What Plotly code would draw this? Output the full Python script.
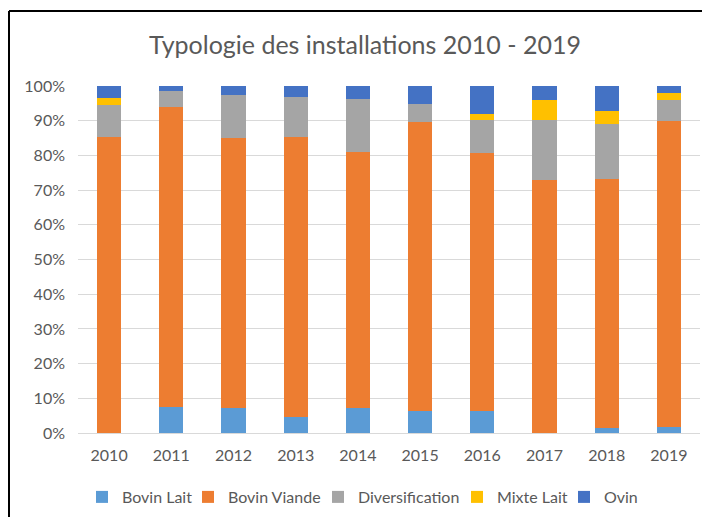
import plotly.graph_objects as go

years = ["2010", "2011", "2012", "2013", "2014", "2015", "2016", "2017", "2018", "2019"]
bovin_lait = [0, 7.4, 7.3, 4.5, 7.3, 6.4, 6.2, 0, 1.5, 1.8]
bovin_viande = [85.4, 86.5, 77.6, 80.9, 73.7, 83.3, 74.6, 72.8, 71.7, 88.2]
diversification = [9.1, 4.6, 12.5, 11.4, 15.3, 5.1, 9.4, 17.4, 15.9, 6.0]
mixte_lait = [1.9, 0, 0, 0, 0, 0, 1.6, 5.9, 3.7, 2.0]
ovin = [3.6, 1.5, 2.6, 3.2, 3.7, 5.2, 8.2, 3.9, 7.2, 2.0]

series = [
    ("Bovin Lait", bovin_lait, "#5B9BD5"),
    ("Bovin Viande", bovin_viande, "#ED7D31"),
    ("Diversification", diversification, "#A5A5A5"),
    ("Mixte Lait", mixte_lait, "#FFC000"),
    ("Ovin", ovin, "#4472C4"),
]

# page has an 8px body margin, so the figure is sized to fit the window
W, H = 702, 509
ML, MR, MT, MB = 70, 10, 78, 84
pw = W - ML - MR
ph = H - MT - MB

# left position (figure px) of each legend entry
legend_x_px = [74, 180, 310, 449, 556]
legend_y_px = 489

fig = go.Figure()
font_col = "#595959"
legend_layout = {}
for i, (name, vals, col) in enumerate(series):
    key = "legend" if i == 0 else f"legend{i + 1}"
    fig.add_trace(go.Bar(x=years, y=vals, name=name, legend=key,
                         marker=dict(color=col, line=dict(width=0))))
    legend_layout[key] = dict(
        orientation="h",
        x=(legend_x_px[i] - ML) / pw, xanchor="left",
        y=-(legend_y_px - MT - ph) / ph, yanchor="middle",
        font=dict(size=16, color=font_col),
        bgcolor="rgba(0,0,0,0)",
    )

fig.update_layout(
    width=W, height=H,
    margin=dict(l=ML, r=MR, t=MT, b=MB, autoexpand=False),
    barmode="stack", bargap=0.61,
    paper_bgcolor="white", plot_bgcolor="white",
    font=dict(family="Lato, sans-serif", color=font_col, size=16),
    title=dict(text="Typologie des installations 2010 - 2019",
               xref="container", yref="container",
               x=357 / W, y=1 - 37 / H,
               xanchor="center", yanchor="middle",
               font=dict(size=25, color=font_col)),
    xaxis=dict(showgrid=False, showline=True, linecolor="#D9D9D9",
               tickfont=dict(size=16), ticklabelstandoff=8),
    yaxis=dict(range=[0, 100], dtick=10, ticksuffix="%",
               gridcolor="#D9D9D9", gridwidth=1, zeroline=False,
               tickfont=dict(size=16), ticklabelstandoff=12),
    showlegend=True,
    **legend_layout,
)

# outer black frame (left and top edges)
x_left = (1 - ML) / pw
y_top = 1 + (MT - 3) / ph
fig.add_shape(type="line", xref="paper", yref="paper",
              x0=x_left, x1=x_left, y0=y_top, y1=-(MB + 5) / ph,
              line=dict(color="black", width=2))
fig.add_shape(type="line", xref="paper", yref="paper",
              x0=x_left, x1=1 + (MR + 5) / pw, y0=y_top, y1=y_top,
              line=dict(color="black", width=2))

fig.write_html("out.html")
